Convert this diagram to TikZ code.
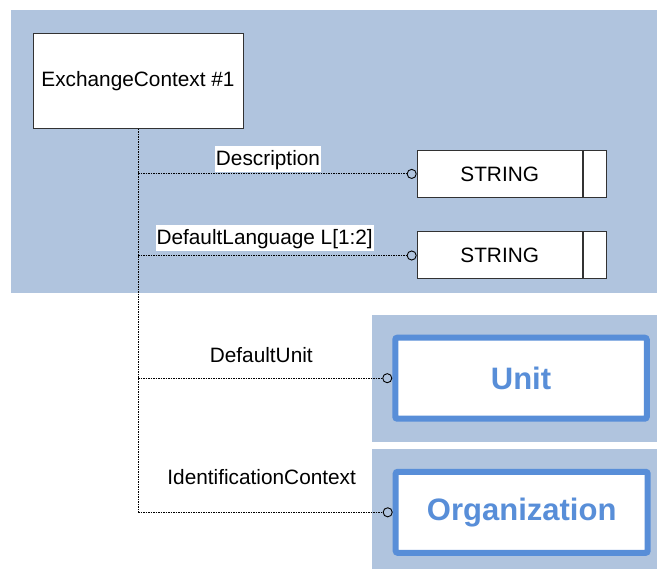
\documentclass[tikz,border=0pt]{standalone}
\usepackage{fontspec}
\setmainfont{Liberation Sans}
\usetikzlibrary{arrows.meta}
\definecolor{bgblue}{RGB}{176,196,222}
\definecolor{clsblue}{RGB}{88,142,216}
\definecolor{edgegray}{RGB}{50,50,50}
\begin{document}
\begin{tikzpicture}[x=1pt,y=-1pt,
  every node/.style={font=\fontsize{20.8}{24}\selectfont},
  bgpanel/.style={fill=bgblue,draw=none},
  entbox/.style={draw=edgegray,fill=white,line width=1pt,inner sep=0pt},
  clsbox/.style={draw=clsblue,fill=white,line width=6pt,rounded corners=2pt,inner sep=0pt,
    text=clsblue,font=\fontsize{31}{36}\selectfont\bfseries,minimum width=251.5pt,minimum height=81pt},
  conn/.style={draw=black,line width=0.8pt,dash pattern=on 1.5pt off 1pt},
  tipc/.style={-{Circle[open,length=10pt,width=10pt,line width=0.9pt]}},
  lbl/.style={anchor=base,inner xsep=1pt,inner ysep=0pt,text height=20pt,text depth=5.7pt},
  lblw/.style={lbl,fill=white}]
\useasboundingbox (0,0) rectangle (657,569);
\fill[bgpanel] (11,10) rectangle (657,292.7);
\fill[bgpanel] (372,315) rectangle (657,441.7);
\fill[bgpanel] (372,449) rectangle (657,569);

\node[entbox,minimum width=210pt,minimum height=95pt] (ec) at (138,80.8) {ExchangeContext \#1};

\node[entbox,minimum width=165pt,minimum height=47.7pt] (s1) at (499.7,173.9) {STRING};
\node[entbox,minimum width=23.7pt,minimum height=47.7pt,anchor=west] (s1r) at (s1.east) {};
\node[entbox,minimum width=165pt,minimum height=47pt] (s2) at (499.7,255.5) {STRING};
\node[entbox,minimum width=23.7pt,minimum height=47pt,anchor=west] (s2r) at (s2.east) {};

\node[clsbox] (unit) at (521,378.2) {Unit};
\node[clsbox,minimum width=252pt] (org) at (521.7,512.3) {Organization};

\draw[conn] (ec.south) -- (ec.south |- org.west);
\draw[conn,tipc] (ec.south |- s1.west) -- (s1.west);
\draw[conn,tipc] (ec.south |- s2.west) -- (s2.west);
\draw[conn,tipc] (ec.south |- unit.west) -- (unit.west);
\draw[conn,tipc] (ec.south |- org.west) -- (org.west);

\node[lblw] (ldesc) at (268,166) {Description};
\node[lblw] (llang) at (264.7,245) {DefaultLanguage L[1:2]};
\node[lbl] (lunit) at (261.3,363) {DefaultUnit};
\node[lbl] (lorg) at (261.7,485) {IdentificationContext};
\end{tikzpicture}
\end{document}
